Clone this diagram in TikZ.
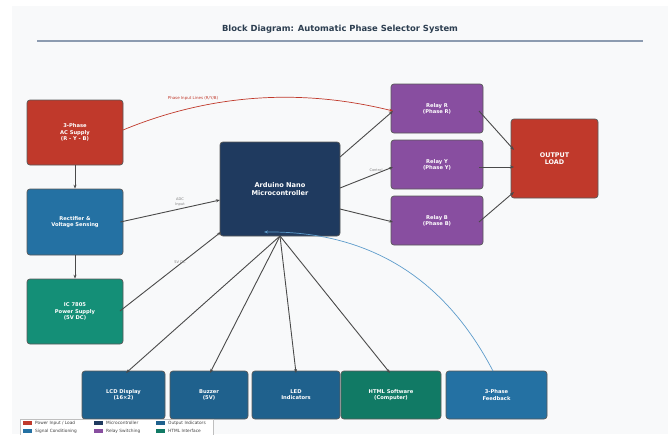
\documentclass[tikz,border=0pt]{standalone}
\usepackage{fontspec}
\setmainfont{DejaVu Sans}
\usetikzlibrary{arrows.meta}
\definecolor{cred}{HTML}{C0392B}
\definecolor{cblue}{HTML}{2471A3}
\definecolor{cgreen}{HTML}{148F77}
\definecolor{chtml}{HTML}{117A65}
\definecolor{cnavy}{HTML}{1F3A5F}
\definecolor{cpurple}{HTML}{884EA0}
\definecolor{cout}{HTML}{1F618D}
\definecolor{cbg}{HTML}{F8F9FA}
\definecolor{ctitle}{HTML}{2C3E50}
\definecolor{crule}{HTML}{8C9BB0}
\definecolor{cline}{HTML}{4A4A4A}
\definecolor{cfb}{HTML}{5D9CCB}
\tikzset{
  box/.style={draw=black!65, line width=0.7pt, rounded corners=3pt, text=white,
    font=\bfseries\fontsize{5.2}{6.2}\selectfont, align=center, inner sep=0pt},
  conn/.style={draw=cline, line width=0.9pt, -{Stealth[length=4pt,width=3pt]}},
  small/.style={font=\fontsize{3.6}{4.2}\selectfont, text=black!50, align=center},
  legtxt/.style={font=\fontsize{4.3}{5}\selectfont, text=black!75, anchor=west, inner sep=0pt},
  legpatch/.style={minimum width=9pt, minimum height=4pt, inner sep=0pt}
}
\begin{document}
\begin{tikzpicture}[x=1pt,y=-1pt]
\useasboundingbox (0,0) rectangle (668,434);
\fill[cbg] (12,6) rectangle (668,434);
% title
\node[font=\bfseries\fontsize{8.4}{10}\selectfont, text=ctitle] (title) at (340,29) {Block Diagram: Automatic Phase Selector System};
\draw[crule, line width=1.6pt] (37,41) -- (643,41);
% nodes
\node[box, fill=cred, minimum width=96pt, minimum height=65pt] (ac) at (75,132.5) {3-Phase\\AC Supply\\(R - Y - B)};
\node[box, fill=cblue, minimum width=96pt, minimum height=66pt] (rect) at (75,222) {Rectifier \&\\Voltage Sensing};
\node[box, fill=cgreen, minimum width=96pt, minimum height=65pt] (ic) at (75,311.5) {IC 7805\\Power Supply\\(5V DC)};
\node[box, fill=cnavy, minimum width=120pt, minimum height=94pt, font=\bfseries\fontsize{6.6}{7.8}\selectfont] (ard) at (280,189) {Arduino Nano\\Microcontroller};
\node[box, fill=cpurple, minimum width=92pt, minimum height=49pt] (rr) at (437,108.5) {Relay R\\(Phase R)};
\node[box, fill=cpurple, minimum width=92pt, minimum height=49pt] (ry) at (437,164.5) {Relay Y\\(Phase Y)};
\node[box, fill=cpurple, minimum width=92pt, minimum height=49pt] (rb) at (437,220.5) {Relay B\\(Phase B)};
\node[box, fill=cred, minimum width=87pt, minimum height=79pt, font=\bfseries\fontsize{6.4}{7.6}\selectfont] (load) at (554.5,158.5) {OUTPUT\\LOAD};
\node[box, fill=cout, minimum width=83pt, minimum height=48pt] (lcd) at (123.5,395) {LCD Display\\(16×2)};
\node[box, fill=cout, minimum width=78pt, minimum height=48pt] (buz) at (209,395) {Buzzer\\(5V)};
\node[box, fill=cout, minimum width=88pt, minimum height=48pt] (led) at (296,395) {LED\\Indicators};
\node[box, fill=chtml, minimum width=100pt, minimum height=48pt] (html) at (391,395) {HTML Software\\(Computer)};
\node[box, fill=cblue, minimum width=101pt, minimum height=48pt] (fb) at (496.5,395) {3-Phase\\Feedback};
% coordinates
\coordinate (ardb) at (280,236);
% connectors
\draw[conn] (ac.south) -- (rect.north);
\draw[conn] (rect.south) -- (ic.north);
\draw[conn] (rect.east) ++(-3,0) coordinate (re) -- (220,200) coordinate (ain);
\draw[conn] (120,311) coordinate (ie) -- (221,232) coordinate (pin);
\node[small] (adcl) at (180,202) {ADC\\Input};
\node[small] (vdcl) at (180,262) {5V DC};
\draw[conn] (340,157) -- (393,111);
\draw[conn] (340,188) -- (393,167);
\draw[conn] (340,209) -- (393,222);
\node[small] (ctl) at (376,170) {Control};
\draw[conn] (479,111) -- (514,150);
\draw[conn] (479,167) -- (514,167);
\draw[conn] (479,222) -- (514,192);
\draw[conn] (ardb) -- (126,373);
\draw[conn] (ardb) -- (210,373);
\draw[conn] (ardb) -- (296,373);
\draw[conn] (ardb) -- (390,373);
% feedback curve
\draw[draw=cfb, line width=0.7pt, -{Stealth[length=4pt,width=3pt]}] (493,371) .. controls (444,277) and (368,231) .. (264,232);
% phase input lines
\draw[draw=cred, line width=0.7pt, -{Stealth[length=4pt,width=3pt]}] (123,130) .. controls (210,94) and (300,88) .. (393,111);
\node[font=\fontsize{4}{5}\selectfont, text=cred] (pil) at (193,98) {Phase Input Lines (R/Y/B)};
% legend
\node[draw=black!25, fill=white, minimum width=193pt, minimum height=16pt, inner sep=0pt] (leg) at (116.5,427) {};
\node[legpatch, fill=cred] (l1) at (27,423) {};
\node[legtxt] (t1) at (35,423) {Power Input / Load};
\node[legpatch, fill=cblue] (l2) at (27,431) {};
\node[legtxt] (t2) at (35,431) {Signal Conditioning};
\node[legpatch, fill=cnavy] (l3) at (98,423) {};
\node[legtxt] (t3) at (106,423) {Microcontroller};
\node[legpatch, fill=cpurple] (l4) at (98,431) {};
\node[legtxt] (t4) at (106,431) {Relay Switching};
\node[legpatch, fill=cout] (l5) at (160,423) {};
\node[legtxt] (t5) at (168,423) {Output Indicators};
\node[legpatch, fill=chtml] (l6) at (160,431) {};
\node[legtxt] (t6) at (168,431) {HTML Interface};
\end{tikzpicture}
\end{document}
